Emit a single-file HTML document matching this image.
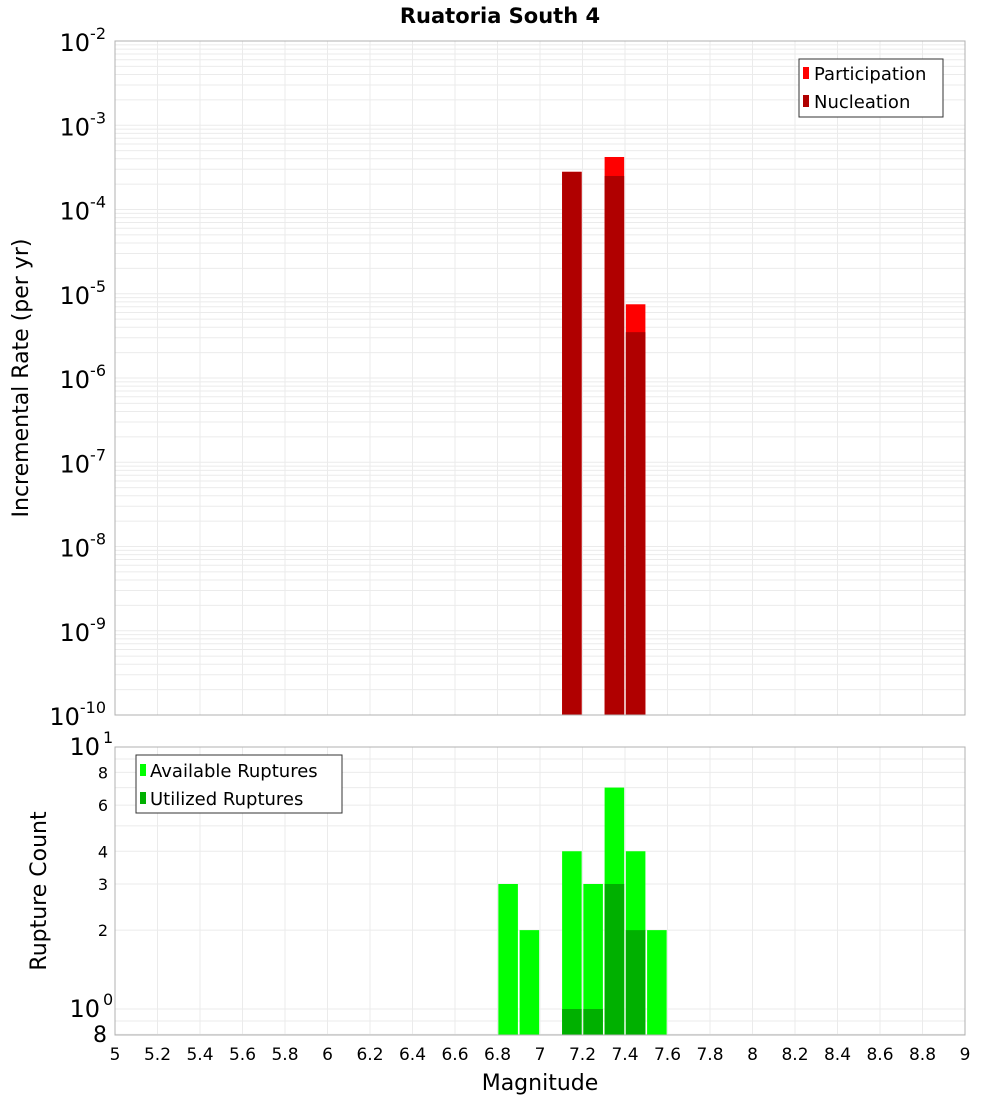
<!DOCTYPE html>
<html><head><meta charset="utf-8"><style>
body{margin:0;background:#fff;font-family:"Liberation Sans","DejaVu Sans",sans-serif}
svg text{font-family:"DejaVu Sans","Liberation Sans",sans-serif}
</style></head><body>
<svg id="c" width="1000" height="1100" xmlns="http://www.w3.org/2000/svg">
<text x="500" y="23" text-anchor="middle" font-size="21" font-weight="bold">Ruatoria South 4</text>
<g id="topg"></g><g id="botg"></g>
<text transform="translate(28,378) rotate(-90)" text-anchor="middle" font-size="22">Incremental Rate (per yr)</text>
<text transform="translate(46,891) rotate(-90)" text-anchor="middle" font-size="22">Rupture Count</text>
<text x="540" y="1090" text-anchor="middle" font-size="22">Magnitude</text>
<g>
<rect x="799" y="59" width="144" height="58" fill="#fff" stroke="#333"/>
<rect x="803" y="67" width="6" height="12" fill="#ff0000"/><text x="814" y="80" font-size="18">Participation</text>
<rect x="803" y="95" width="6" height="12" fill="#b00000"/><text x="814" y="108" font-size="18">Nucleation</text>
</g>
<g>
<rect x="136" y="755" width="206" height="58" fill="#fff" stroke="#333"/>
<rect x="140" y="764" width="6" height="12" fill="#00ff00"/><text x="150" y="777" font-size="18">Available Ruptures</text>
<rect x="140" y="792" width="6" height="12" fill="#00b000"/><text x="150" y="805" font-size="18">Utilized Ruptures</text>
</g>
</svg>
<script>
const magBins=[7.15,7.35,7.45];
const participation=[2.8e-4,4.2e-4,7.5e-6];
const nucleation=[2.8e-4,2.5e-4,3.5e-6];
const countBins=[6.85,6.95,7.15,7.25,7.35,7.45,7.55];
const available=[3,2,4,3,7,4,2];
const utilized=[0,0,1,1,3,2,0];
const xTicks=["5","5.2","5.4","5.6","5.8","6","6.2","6.4","6.6","6.8","7","7.2","7.4","7.6","7.8","8","8.2","8.4","8.6","8.8","9"];
const NS="http://www.w3.org/2000/svg";
const X0=115,X1=965;
const xs=m=>X0+(m-5)/4*(X1-X0);
const T0=41,T1=715;
const yt=v=>T0+(-2-Math.log10(v))/8*(T1-T0);
const B0=747,B1=1035;
const yb=v=>1009-Math.log10(v)*262;
function el(p,t,a){const e=document.createElementNS(NS,t);for(const k in a)e.setAttribute(k,a[k]);p.appendChild(e);return e;}
const gTop=document.getElementById('topg'),gBot=document.getElementById('botg');
for(let d=-10;d<-2;d++)for(let k=1;k<10;k++){const y=yt(k*Math.pow(10,d));const g=el(gTop,'line',{x1:X0,x2:X1,y1:y,y2:y,stroke:'#ebebeb'});

}
for(let d=-1;d<=1;d++)for(let k=1;k<10;k++){const v=k*Math.pow(10,d);if(v<0.8||v>10)continue;const y=yb(v);const g=el(gBot,'line',{x1:X0,x2:X1,y1:y,y2:y,stroke:'#ebebeb'});

}
xTicks.forEach(t=>{const x=xs(+t);el(gTop,'line',{x1:x,x2:x,y1:T0,y2:T1,stroke:'#ebebeb'});el(gBot,'line',{x1:x,x2:x,y1:B0,y2:B1,stroke:'#ebebeb'});
const tx=el(gBot,'text',{x:x,y:1060,'text-anchor':'middle','font-size':'17'});tx.textContent=t;

});
const bw=0.092;
magBins.forEach((m,i)=>{
const p=el(gTop,'rect',{x:xs(m-bw/2),width:xs(m+bw/2)-xs(m-bw/2),y:yt(participation[i]),height:T1-yt(participation[i]),fill:'#ff0000'});


const n=el(gTop,'rect',{x:xs(m-bw/2),width:xs(m+bw/2)-xs(m-bw/2),y:yt(nucleation[i]),height:T1-yt(nucleation[i]),fill:'#b00000'});

});
countBins.forEach((m,i)=>{
const a=el(gBot,'rect',{x:xs(m-bw/2),width:xs(m+bw/2)-xs(m-bw/2),y:yb(available[i]),height:B1-yb(available[i]),fill:'#00ff00'});


if(utilized[i]>0){const u=el(gBot,'rect',{x:xs(m-bw/2),width:xs(m+bw/2)-xs(m-bw/2),y:yb(utilized[i]),height:B1-yb(utilized[i]),fill:'#00b000'});

}});
el(gTop,'rect',{x:X0,y:T0,width:X1-X0,height:T1-T0,fill:'none',stroke:'#b0b0b0'});
el(gBot,'rect',{x:X0,y:B0,width:X1-X0,height:B1-B0,fill:'none',stroke:'#b0b0b0'});
for(let d=-10;d<=-2;d++){const y=yt(Math.pow(10,d));const t=el(gTop,'text',{x:106,y:y+10,'text-anchor':'end','font-size':'24'});


const s1=document.createElementNS(NS,'tspan');s1.textContent='10';t.appendChild(s1);const s2=document.createElementNS(NS,'tspan');s2.setAttribute('dy','-12');s2.setAttribute('font-size','16');s2.textContent=String(d);t.appendChild(s2);}
const bl=[[2,'2'],[3,'3'],[4,'4'],[6,'6'],[8,'8']];
bl.forEach(([v,s])=>{const t=el(gBot,'text',{x:108,y:yb(v)+6,'text-anchor':'end','font-size':'16'});t.textContent=s;

});
[[10,'1',B0+8],[1,'0',1017]].forEach(([v,s,y])=>{const t=el(gBot,'text',{x:100,y:y,'text-anchor':'end','font-size':'24'});t.textContent='10';


const e=el(gBot,'text',{x:103,y:y-12,'font-size':'16'});e.textContent=s;});
const e8=el(gBot,'text',{x:107,y:1042,'text-anchor':'end','font-size':'22'});e8.textContent='8';
</script>
</body></html>
